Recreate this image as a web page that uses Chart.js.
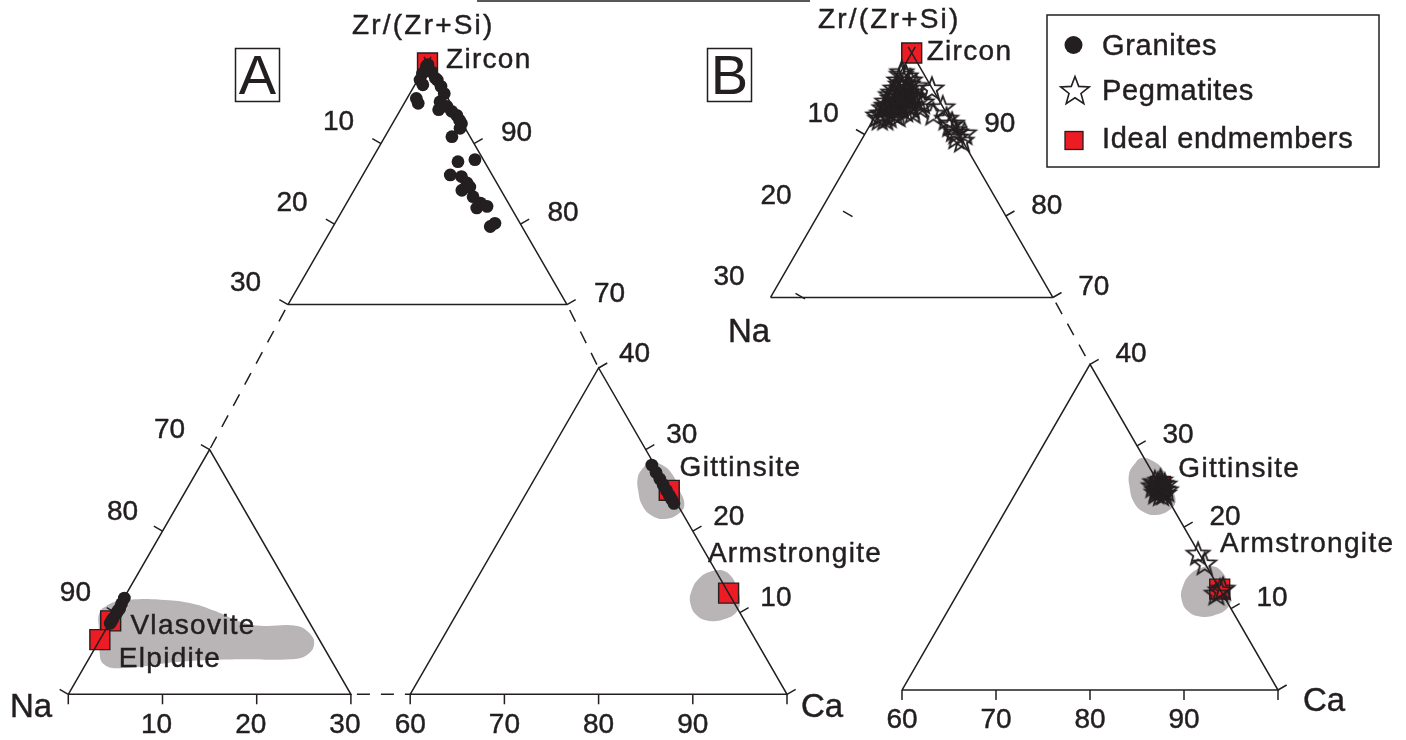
<!DOCTYPE html>
<html lang="en">
<head>
<meta charset="UTF-8">
<title>Zr/(Zr+Si) - Na - Ca</title>
<style>
  html, body { margin: 0; padding: 0; background: #fff; }
  #wrap { width: 1406px; height: 740px; }
</style>
</head>
<body>
<div id="wrap"><canvas id="ternary" width="1406" height="740"></canvas></div>

<script src="https://cdn.jsdelivr.net/npm/chart.js"></script>
<script>
// Compositions are stored as Ca and Zr (percent); Na is whatever is left.

// Granites (panel A)
const graniteCa = [
  0.1, 0.15, 0.1, 0.3,
  0.1, 0.25, 0.85, 1.0, 1.5, 1.0, 1.8,
  2.1, 2.9, 3.7, 3.75, 4.1, 4.8, 5.6, 6.4, 7.0, 7.4, 7.55, 7.2,
  9.4, 11.1, 9.4, 10.7, 11.7, 11.6, 12.25, 13.2, 14.4, 14.3, 15.3, 16.9, 17.2,
  0.1, 0.1, 0.1, 0.15, 0.15, 0.2, 0.1, 0.05,
  71.6, 72.5, 73.3, 74.0, 74.7, 75.3, 75.8, 76.3
];
const graniteZr = [
  99.7, 99.8, 99.6, 99.3,
  98.7, 97.9, 97.3, 95.6, 95.0, 98.9, 98.1,
  97.9, 97.1, 96.2, 95.2, 94.2, 94.6, 94.0, 93.5, 92.9, 92.5, 91.9, 90.85,
  87.75, 88.0, 86.1, 85.9, 85.1, 84.2, 84.6, 83.4, 82.6, 82.0, 82.2, 79.7, 80.1,
  8.7, 9.0, 9.3, 9.9, 10.2, 10.5, 11.1, 11.8,
  28.1, 27.2, 26.4, 25.7, 25.0, 24.4, 23.9, 23.4
];

// Pegmatites (panel B)
const pegmatiteCa = [
  0.1, 0.8, 0.3, 1.5, 0.4, 1.2, 2.4, 0.3, 1.1, 2.2, 0.3, 1.1, 2.1, 0.4,
  1.4, 0.5, 3.0, 2.5, 1.2, 1.4, 2.3, 1.0, 0.4, 0.5, 2.0, 1.6, 0.6, 2.4,
  0.2, 1.5, 2.9, 2.8, 0.7, 1.7, 1.7, 0.7, 1.9, 1.2, 3.6, 1.7, 0.8, 3.7, 0.2,
  4.3, 6.0, 4.2, 6.6, 7.7, 8.6, 9.6, 9.9, 10.5, 9.2, 8.5, 10.7, 0.7, 3.3, 3.0, 4.1,
  74.1, 74.6, 75.3, 74.8, 75.4, 74.9, 75.5, 75.8, 74.2, 74.8, 74.9, 74.8, 75.8, 75.1, 74.5,
  83.1, 84.4,
  87.7, 87.5, 87.9
];
const pegmatiteZr = [
  97.7, 97.2, 96.7, 96.2, 95.7, 95.5, 95.2, 94.9, 94.6, 94.4, 94.1, 93.7, 93.5, 93.3,
  92.9, 92.6, 93.7, 96.0, 95.0, 92.3, 92.4, 96.4, 95.2, 93.6, 94.2, 93.3, 92.0, 94.7,
  97.4, 96.7, 94.7, 93.0, 94.5, 93.9, 95.7, 96.2, 92.6, 92.0, 94.2, 95.0, 93.5, 92.8, 92.4,
  95.7, 92.6, 93.4, 93.4, 92.0, 91.4, 90.3, 89.7, 90.2, 90.6, 91.2, 89.3, 92.6, 93.4, 93.6, 94.0,
  25.6, 25.8, 25.3, 24.9, 24.7, 24.3, 24.1, 24.6, 25.1, 25.2, 25.4, 24.6, 24.2, 24.7, 25.4,
  16.8, 15.6,
  12.3, 11.9, 12.5
];

// Ideal endmembers
const endmemberNames = ['Zircon', 'Vlasovite', 'Elpidite', 'Gittinsite', 'Armstrongite'];
const endmemberCa = [0, 0, 0, 75.0, 87.6];
const endmemberZr = [100, 9.0, 6.7, 25.0, 12.4];

// Shaded composition fields
const vlasFieldCa = [-1.7, -1.0, 0.8, 4.0, 7.3, 10.5, 13.5, 16.2, 19.9, 21.7, 23.0, 22.9, 21.4, 16.1, 9.9, 3.9, 1.9, 0.6, -0.7];
const vlasFieldZr = [10.1, 11.2, 11.6, 11.6, 11.2, 10.2, 9.0, 8.4, 8.4, 7.6, 6.2, 4.8, 4.3, 4.3, 4.0, 3.2, 3.7, 5.4, 7.9];
const gittFieldCa = [70.8, 71.2, 72.7, 74.3, 76.1, 77.5, 77.4, 76.3, 74.7, 73.1, 71.7, 70.9];
const gittFieldZr = [27.5, 28.5, 28.1, 27.0, 25.0, 23.2, 22.1, 21.5, 21.9, 23.1, 25.0, 26.5];
const armFieldCa = [84.5, 85.5, 86.8, 88.2, 89.2, 89.6, 88.7, 87.3, 85.7, 84.2, 83.5, 83.6];
const armFieldZr = [15.1, 15.2, 14.5, 13.0, 11.6, 10.1, 9.2, 9.0, 9.6, 11.1, 12.8, 14.3];

// Tick labels
const naTicksTop = [10, 20, 30];
const zrTicksTop = [90, 80, 70];
const naTicksLow = [70, 80, 90];
const caTicksLow = [10, 20, 30];
const zrTicksHigh = [40, 30, 20, 10];
const caTicksHigh = [60, 70, 80, 90];

// ---------------------------------------------------------------------------
const INK = '#231f20';
const RED = '#ed1c24';
const FIELD = '#b9b5b7';
const SANS = '"Liberation Sans", Arial, Helvetica, sans-serif';
const H = Math.sqrt(3) / 2;

// each diagram is cut into corner pieces: Zr apex, Na corner, Ca corner
const panelA = {
  top:   { x: 427.5, y: 63,    ca: 0,   zr: 100, k: 9.3 },
  left:  { x: 68.3,  y: 694.3, ca: 0,   zr: 0,   k: 9.42 },
  right: { x: 787,   y: 694.3, ca: 100, zr: 0,   k: 9.42 }
};
const panelB = {
  top:   { x: 911.7, y: 53,  ca: 0,   zr: 100, k: 9.41 },
  right: { x: 1278,  y: 690, ca: 100, zr: 0,   k: 9.4 }
};

function pieceFor(panel, ca, zr) {
  if (zr >= 70) return panel.top;
  if (ca >= 60) return panel.right;
  return panel.left;
}
function toXY(piece, ca, zr) {
  return {
    x: piece.x + piece.k * ((ca + zr / 2) - (piece.ca + piece.zr / 2)),
    y: piece.y - piece.k * H * (zr - piece.zr)
  };
}
function place(panel, ca, zr) {
  const p = pieceFor(panel, ca, zr);
  return p ? toXY(p, ca, zr) : null;
}
function points(panel, caList, zrList) {
  const out = [];
  caList.forEach((ca, i) => {
    const p = place(panel, ca, zrList[i]);
    if (p) out.push(p);
  });
  return out;
}
const GAP = { x: NaN, y: NaN };

// triangle outlines
function frameSegments(panel) {
  const segs = [];
  const add = (...ps) => { segs.push(...ps, GAP); };
  if (panel.top) {
    const t = panel.top;
    const a = toXY(t, 0, 100), l = toXY(t, 0, 70), r = toXY(t, 30, 70);
    const past = (from, to, d) => {
      const dx = to.x - from.x, dy = to.y - from.y, n = Math.hypot(dx, dy);
      return { x: to.x + dx / n * d, y: to.y + dy / n * d };
    };
    add(l, past(l, a, 7));
    add(r, past(r, a, 7));
    add(l, r);
  }
  if (panel.left) {
    const t = panel.left;
    add(toXY(t, 0, 0), toXY(t, 0, 30), toXY(t, 30, 0), toXY(t, 0, 0));
  }
  if (panel.right) {
    const t = panel.right;
    add(toXY(t, 60, 0), toXY(t, 60, 40), toXY(t, 100, 0), toXY(t, 60, 0));
  }
  return segs;
}

// axis ticks and their labels
const OUT = { na: [-H, -0.5], zr: [H, -0.5], ca: [0, 1] };
function edgeComp(edge, v) {
  if (edge === 'na') return [0, 100 - v];
  if (edge === 'zr') return [100 - v, v];
  return [v, 0];
}
const axesA = [
  { edge: 'na', labels: naTicksTop, off: [-42.5, -21] },
  { edge: 'zr', labels: zrTicksTop, off: [42.5, -10.5] },
  { edge: 'na', labels: naTicksLow, off: [-40, -19], extra: [100] },
  { edge: 'ca', labels: caTicksLow, off: [-6, 30.7], extra: [0] },
  { edge: 'zr', labels: zrTicksHigh, off: [36, -14], extra: [0] },
  { edge: 'ca', labels: caTicksHigh, off: [0, 30.7], extra: [100] }
];
const axesB = [
  { edge: 'na', labels: naTicksTop, off: [-41.5, -20], marks: [10] },
  { edge: 'zr', labels: zrTicksTop, off: [41, -10] },
  { edge: 'zr', labels: zrTicksHigh, off: [41, -10], extra: [0] },
  { edge: 'ca', labels: caTicksHigh, off: [0, 30.5], extra: [100] }
];
// two short inward ticks on the left side of panel B
const strayTicksB = [[2.4, 80.6], [2.4, 70.5]];
const TICK = 10;

function tickSegments(panel, axes, stray) {
  const segs = [];
  axes.forEach(ax => {
    const n = OUT[ax.edge];
    const vals = (ax.marks || ax.labels).concat(ax.extra || []);
    vals.forEach(v => {
      const [ca, zr] = edgeComp(ax.edge, v);
      const p = place(panel, ca, zr);
      if (!p) return;
      segs.push(p, { x: p.x + n[0] * TICK, y: p.y + n[1] * TICK }, GAP);
    });
  });
  (stray || []).forEach(([ca, zr]) => {
    const p = place(panel, ca, zr);
    segs.push(p, { x: p.x + H * 11, y: p.y + 0.5 * 11 }, GAP);
  });
  return segs;
}
function tickLabels(panel, axes) {
  const out = [];
  axes.forEach(ax => {
    ax.labels.forEach(v => {
      const [ca, zr] = edgeComp(ax.edge, v);
      const p = place(panel, ca, zr);
      out.push({ text: String(v), x: p.x + ax.off[0], y: p.y + ax.off[1],
                 font: '28px ' + SANS, align: 'center', base: 'middle' });
    });
  });
  return out;
}

// dashed lines joining the cut pieces
function connectorSegments(panel) {
  const segs = [];
  if (panel.left) {
    segs.push(toXY(panel.top, 0, 70), toXY(panel.left, 0, 30), GAP);
    segs.push(toXY(panel.left, 30, 0), toXY(panel.right, 60, 0), GAP);
  }
  segs.push(toXY(panel.top, 30, 70), toXY(panel.right, 60, 40), GAP);
  return segs;
}

// closed smooth outline for a field; the first two vertices are repeated
function fieldOutline(panel, caList, zrList) {
  const pts = points(panel, caList, zrList);
  return pts.concat([pts[0], pts[1]]);
}

// open five-pointed star used for pegmatites
function starImage(r, lw) {
  const s = Math.ceil(2 * r + 2 * lw + 2);
  const c = document.createElement('canvas');
  c.width = s; c.height = s;
  const g = c.getContext('2d');
  g.translate(s / 2, s / 2 + r * 0.1);
  g.beginPath();
  for (let i = 0; i < 10; i++) {
    const rad = i % 2 ? r * 0.42 : r;
    const a = -Math.PI / 2 + i * Math.PI / 5;
    g.lineTo(rad * Math.cos(a), rad * Math.sin(a));
  }
  g.closePath();
  g.lineJoin = 'miter';
  g.lineWidth = lw;
  g.strokeStyle = INK;
  g.stroke();
  return c;
}
const starPlot = starImage(12, 1.8);
const starKey = starImage(15, 1.6);

// ---------------------------------------------------------------------------
// text placed on the figure
const WORD = '28px ' + SANS;
const texts = [
  { text: 'Zr/(Zr+Si)', x: 352, y: 34, font: '28px ' + SANS, ls: '2.2px' },
  { text: 'Zr/(Zr+Si)', x: 818, y: 28, font: '28px ' + SANS, ls: '2.2px' },
  { text: 'Na', x: 10, y: 716.7, font: '33px ' + SANS },
  { text: 'Ca', x: 801, y: 717, font: '33px ' + SANS },
  { text: 'Na', x: 728, y: 342, font: '33px ' + SANS },
  { text: 'Ca', x: 1303, y: 711, font: '33px ' + SANS }
];
const nameOffsetsA = { Zircon: [18.5, 5.3], Vlasovite: [19.7, 12.8], Elpidite: [19, 27.3],
                       Gittinsite: [10.3, -14], Armstrongite: [-20.7, -31.3] };
const nameOffsetsB = { Zircon: [15, 7], Gittinsite: [17.8, -9.8], Armstrongite: [0.3, -37.3] };
[[panelA, nameOffsetsA], [panelB, nameOffsetsB]].forEach(([panel, offs]) => {
  endmemberNames.forEach((name, i) => {
    const o = offs[name];
    const p = place(panel, endmemberCa[i], endmemberZr[i]);
    if (!o || !p) return;
    texts.push({ text: name, x: p.x + o[0], y: p.y + o[1], font: WORD, ls: '1.3px' });
  });
});
texts.push(...tickLabels(panelA, axesA), ...tickLabels(panelB, axesB));

const letterBoxes = [
  { text: 'A', x: 235.5, y: 48.5, w: 44, h: 53 },
  { text: 'B', x: 707.5, y: 48.5, w: 44, h: 53 }
];
const legendBox = { x: 1047, y: 15, w: 332, h: 152 };

// text with a hairline outline to give the glyphs some weight
function inkText(ctx, s, x, y) {
  ctx.fillText(s, x, y);
  ctx.strokeText(s, x, y);
}

const decor = {
  id: 'decor',
  afterDatasetsDraw(chart) {
    const { ctx } = chart;
    const sx = chart.scales.x, sy = chart.scales.y;
    const X = v => sx.getPixelForValue(v), Y = v => sy.getPixelForValue(v);
    ctx.save();
    ctx.fillStyle = INK;
    ctx.strokeStyle = INK;

    // short rule along the top edge
    ctx.lineWidth = 1.5;
    ctx.beginPath();
    ctx.moveTo(X(477), Y(1));
    ctx.lineTo(X(810), Y(1));
    ctx.stroke();

    letterBoxes.forEach(b => {
      ctx.lineWidth = 1.5;
      ctx.strokeRect(X(b.x), Y(b.y), b.w, b.h);
      ctx.font = '56px ' + SANS;
      ctx.textAlign = 'center';
      ctx.textBaseline = 'alphabetic';
      ctx.fillText(b.text, X(b.x + b.w / 2), Y(b.y + 45));
    });

    ctx.lineWidth = 0.45;
    texts.forEach(t => {
      ctx.font = t.font;
      ctx.letterSpacing = t.ls || '0px';
      ctx.textAlign = t.align || 'left';
      ctx.textBaseline = t.base || 'alphabetic';
      inkText(ctx, t.text, X(t.x), Y(t.y));
    });
    ctx.letterSpacing = '0px';

    // legend
    const L = legendBox;
    ctx.lineWidth = 1.5;
    ctx.strokeRect(X(L.x), Y(L.y), L.w, L.h);
    ctx.beginPath();
    ctx.arc(X(1073.5), Y(45), 9, 0, Math.PI * 2);
    ctx.fill();
    ctx.drawImage(starKey, X(1075) - starKey.width / 2, Y(90) - starKey.height / 2);
    ctx.fillStyle = RED;
    ctx.fillRect(X(1065), Y(131.5), 18, 18);
    ctx.lineWidth = 1.3;
    ctx.strokeRect(X(1065), Y(131.5), 18, 18);
    ctx.fillStyle = INK;
    ctx.font = '29px ' + SANS;
    ctx.letterSpacing = '0.7px';
    ctx.lineWidth = 0.45;
    ctx.textAlign = 'left';
    ctx.textBaseline = 'alphabetic';
    const labels = chart.data.datasets.filter(d => d.keyLabel).map(d => d.keyLabel);
    [55, 100, 148.3].forEach((yy, i) => inkText(ctx, labels[i], X(1102), Y(yy)));
    ctx.restore();
  }
};

const lineStyle = { showLine: true, pointRadius: 0, borderColor: INK, borderWidth: 1.5,
                    spanGaps: false, clip: false };
const fieldStyle = { type: 'line', fill: 'shape', backgroundColor: FIELD, borderWidth: 0,
                     pointRadius: 0, tension: 0.45, clip: false };

Chart.defaults.font.family = SANS;

new Chart(document.getElementById('ternary'), {
  type: 'scatter',
  data: {
    datasets: [
      {
        label: 'Granites', keyLabel: 'Granites',
        data: points(panelA, graniteCa, graniteZr),
        pointRadius: 6.4, pointBackgroundColor: INK, pointBorderWidth: 0, clip: false
      },
      {
        label: 'Pegmatites', keyLabel: 'Pegmatites',
        data: points(panelB, pegmatiteCa, pegmatiteZr),
        pointStyle: starPlot, pointRadius: 12, clip: false
      },
      Object.assign({ label: 'frame', data: frameSegments(panelA).concat(frameSegments(panelB)) }, lineStyle),
      Object.assign({ label: 'ticks',
        data: tickSegments(panelA, axesA).concat(tickSegments(panelB, axesB, strayTicksB)) }, lineStyle),
      Object.assign({ label: 'breaks', data: connectorSegments(panelA).concat(connectorSegments(panelB)),
        borderDash: [13, 11], borderDashOffset: 18 }, lineStyle),
      {
        label: 'Ideal endmembers', keyLabel: 'Ideal endmembers',
        data: points(panelA, endmemberCa, endmemberZr).concat(points(panelB, endmemberCa, endmemberZr)),
        pointStyle: 'rect', pointRadius: 14.1, pointBackgroundColor: RED,
        pointBorderColor: INK, pointBorderWidth: 1.4, clip: false
      },
      Object.assign({ label: 'vlasovite field', data: fieldOutline(panelA, vlasFieldCa, vlasFieldZr) }, fieldStyle),
      Object.assign({ label: 'gittinsite field A', data: fieldOutline(panelA, gittFieldCa, gittFieldZr) }, fieldStyle),
      Object.assign({ label: 'armstrongite field A', data: fieldOutline(panelA, armFieldCa, armFieldZr) }, fieldStyle),
      Object.assign({ label: 'gittinsite field B', data: fieldOutline(panelB, gittFieldCa, gittFieldZr) }, fieldStyle),
      Object.assign({ label: 'armstrongite field B', data: fieldOutline(panelB, armFieldCa, armFieldZr) }, fieldStyle)
    ]
  },
  options: {
    responsive: false,
    animation: false,
    events: [],
    layout: { padding: 0, autoPadding: false },
    plugins: { legend: { display: false }, tooltip: { enabled: false } },
    scales: {
      x: { type: 'linear', min: 0, max: 1406, display: false },
      y: { type: 'linear', min: 0, max: 740, reverse: true, display: false }
    }
  },
  plugins: [decor]
});
</script>
</body>
</html>
